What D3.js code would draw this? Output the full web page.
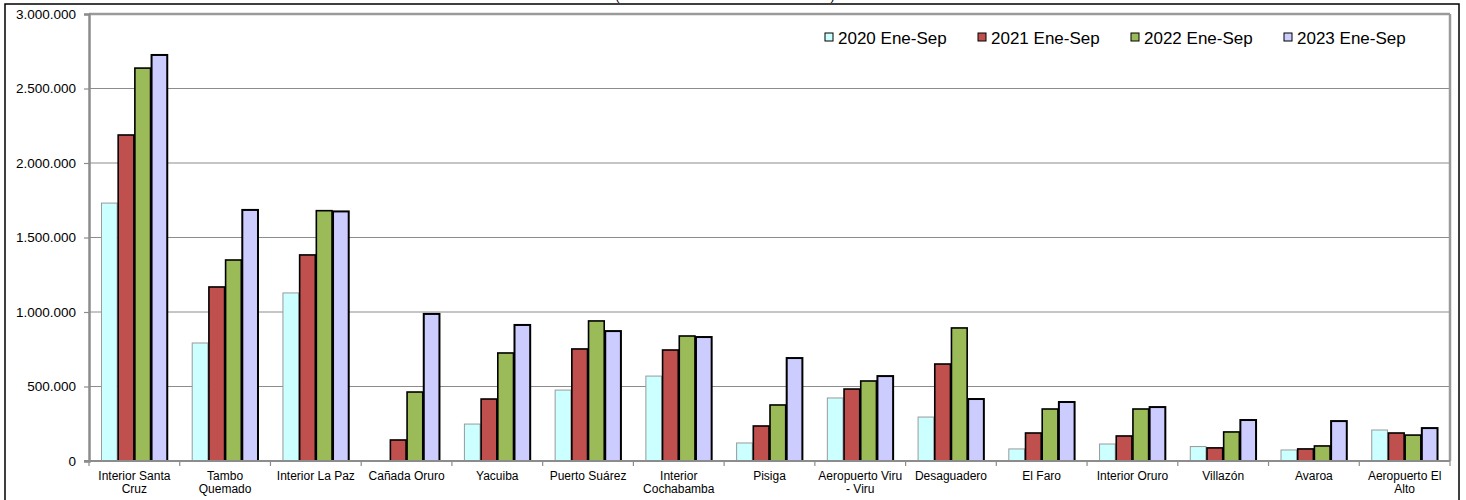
<!DOCTYPE html>
<html>
<head>
<meta charset="utf-8">
<script src="https://cdn.jsdelivr.net/npm/d3@7"></script>
<style>
  html, body { margin: 0; padding: 0; background: #fff; }
  svg { display: block; font-family: "Liberation Sans", Arial, sans-serif; }
</style>
</head>
<body>
<svg id="chart" width="1466" height="500"></svg>
<script>
const categories = ["Interior Santa Cruz", "Tambo Quemado", "Interior La Paz", "Cañada Oruro", "Yacuiba",
  "Puerto Suárez", "Interior Cochabamba", "Pisiga", "Aeropuerto Viru - Viru", "Desaguadero",
  "El Faro", "Interior Oruro", "Villazón", "Avaroa", "Aeropuerto El Alto"];
const seriesNames = ["2020 Ene-Sep", "2021 Ene-Sep", "2022 Ene-Sep", "2023 Ene-Sep"];
const values2020 = [1731000, 792000, 1128000, 3000, 248000, 476000, 570000, 121000, 423000, 295000, 81000, 114000, 97000, 74000, 208000];
const values2021 = [2188000, 1168000, 1383000, 141000, 416000, 752000, 745000, 235000, 483000, 651000, 188000, 168000, 88000, 81000, 188000];
const values2022 = [2637000, 1349000, 1680000, 463000, 725000, 940000, 839000, 376000, 537000, 893000, 349000, 349000, 195000, 101000, 174000];
const values2023 = [2725000, 1685000, 1675000, 987000, 913000, 872000, 832000, 691000, 570000, 416000, 396000, 362000, 275000, 268000, 221000];
const yTicks = [0, 500000, 1000000, 1500000, 2000000, 2500000, 3000000];
const titleText = "(En miles de dólares estadounidenses)";

(function () {
const seriesValues = [values2020, values2021, values2022, values2023];
const colors = ["#CCFFFF", "#C0504D", "#9BBB59", "#CCCCFF"];
const strokes = ["#9a9a9a", "#000", "#000", "#000"];
const strokeW = [1, 1.6, 1.6, 2];

const svg = d3.select("#chart");
const pLeft = 89, pRight = 1450, pTop = 14, pBottom = 461;

// outer border
svg.append("rect").attr("x", 5).attr("y", 4).attr("width", 1454).attr("height", 510)
  .attr("fill", "#fff").attr("stroke", "#000").attr("stroke-width", 1.5);

// title (cut off at the top edge, as in the reference)
svg.append("text").attr("x", 725).attr("y", -0.5).attr("text-anchor", "middle")
  .attr("font-size", 12.7).attr("fill", "#000").text(titleText);

const y = d3.scaleLinear().domain([0, 3000000]).range([pBottom, pTop]);
const x0 = d3.scaleBand().domain(categories).range([pLeft, pRight]).paddingInner(0.264).paddingOuter(0.132);
const x1 = d3.scaleBand().domain(seriesNames).range([0, x0.bandwidth()]).padding(0);

// gridlines
svg.append("g").selectAll("line").data(yTicks.slice(1)).join("line")
  .attr("x1", pLeft).attr("x2", pRight).attr("y1", d => y(d)).attr("y2", d => y(d))
  .attr("stroke", "#8c8c8c").attr("stroke-width", 1);

// plot border (top and right)
svg.append("line").attr("x1", pLeft).attr("x2", pRight).attr("y1", pTop).attr("y2", pTop)
  .attr("stroke", "#9a9a9a").attr("stroke-width", 2.5);
svg.append("line").attr("x1", pRight).attr("x2", pRight).attr("y1", pTop).attr("y2", pBottom)
  .attr("stroke", "#9a9a9a").attr("stroke-width", 2.5);

// bars
const groups = svg.append("g").selectAll("g").data(categories).join("g")
  .attr("transform", d => `translate(${x0(d)},0)`);
groups.selectAll("rect").data((d, i) => seriesNames.map((s, k) => ({ s, k, v: seriesValues[k][i] })))
  .join("rect")
  .attr("x", d => x1(d.s) + 0.5)
  .attr("width", x1.bandwidth() - 1)
  .attr("y", d => y(d.v))
  .attr("height", d => Math.max(0, pBottom - y(d.v)))
  .attr("fill", d => colors[d.k])
  .attr("stroke", d => strokes[d.k])
  .attr("stroke-width", d => strokeW[d.k]);

// y axis
const fmt = d3.formatLocale({ decimal: ",", thousands: ".", grouping: [3], currency: ["", ""] }).format(",d");
const yAxis = svg.append("g").attr("transform", `translate(${pLeft},0)`)
  .call(d3.axisLeft(y).tickValues(yTicks).tickFormat(fmt).tickSize(5).tickPadding(8));
yAxis.select(".domain").attr("stroke", "#8c8c8c").attr("stroke-width", 2.5);
yAxis.selectAll(".tick line").attr("stroke", "#8c8c8c").attr("stroke-width", 1.2);
yAxis.selectAll(".tick text").attr("font-size", 13.5).attr("fill", "#000")
  .attr("font-family", "'Liberation Sans', Arial, sans-serif");

// x axis
const xAxis = svg.append("g").attr("transform", `translate(0,${pBottom})`)
  .call(d3.axisBottom(x0).tickSize(0).tickPadding(0));
xAxis.select(".domain").remove();
svg.append("line").attr("x1", pLeft - 5).attr("x2", pRight).attr("y1", pBottom).attr("y2", pBottom)
  .attr("stroke", "#8c8c8c").attr("stroke-width", 2);
const step = x0.step();
svg.append("g").selectAll("line").data(d3.range(categories.length + 1)).join("line")
  .attr("x1", i => pLeft + i * step).attr("x2", i => pLeft + i * step)
  .attr("y1", pBottom).attr("y2", pBottom + 5)
  .attr("stroke", "#8c8c8c").attr("stroke-width", 1.2);

xAxis.selectAll(".tick text")
  .attr("font-size", 12).attr("fill", "#000").attr("font-family", "'Liberation Sans', Arial, sans-serif")
  .each(function (d) {
    const t = d3.select(this);
    const words = d.split(" ");
    t.text(null);
    let lines = [], line = [];
    const probe = t.append("tspan");
    words.forEach(w => {
      line.push(w);
      probe.text(line.join(" "));
      if (probe.node().getComputedTextLength() > 87 && line.length > 1) {
        line.pop();
        lines.push(line.join(" "));
        line = [w];
      }
    });
    lines.push(line.join(" "));
    probe.remove();
    lines.forEach((l, i) => {
      t.append("tspan").attr("x", 0).attr("y", 19 + i * 12.5).text(l);
    });
    t.attr("dy", null);
  });

// legend
const legend = svg.append("g").selectAll("g").data(seriesNames).join("g")
  .attr("transform", (d, i) => `translate(${825 + i * 153},33)`);
legend.append("rect").attr("width", 8).attr("height", 8)
  .attr("fill", (d, i) => colors[i]).attr("stroke", "#000").attr("stroke-width", 1);
legend.append("text").attr("x", 13).attr("y", 10.5).attr("font-size", 17).attr("fill", "#000")
  .text(d => d);
})();
</script>
</body>
</html>
